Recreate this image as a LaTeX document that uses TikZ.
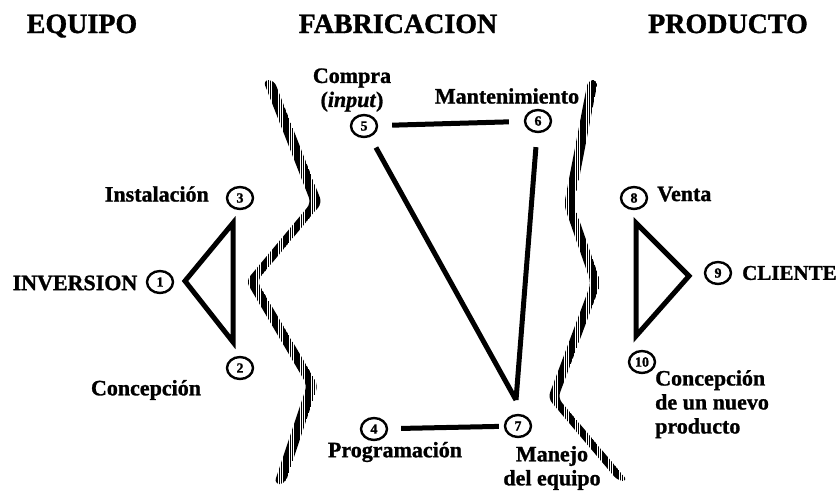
\documentclass[tikz,border=0pt]{standalone}
\usepackage{fontspec}
\setmainfont{Liberation Serif}[BoldFeatures={FakeBold=1.2}, BoldItalicFeatures={FakeBold=1.2}]
\usetikzlibrary{%
	calc,%
	shapes.geometric,%
	patterns.meta
}

\tikzset{
	num/.style={ellipse, draw, line width=2.4pt, inner sep=0pt, minimum width=26pt, minimum height=22pt, font=\bfseries\fontsize{14}{14}\selectfont},
	lbl/.style={inner sep=0pt, font=\bfseries\fontsize{22}{24}\selectfont, align=center},
	head/.style={inner sep=0pt, anchor=base, font=\bfseries\fontsize{28}{30}\selectfont},
	link/.style={line width=5pt},
	band/.style={pattern={Lines[angle=90,distance=2.2pt,line width=1.5pt]}, rounded corners=6pt}
}

\begin{document}
\begin{tikzpicture}[>=latex, x=1pt, y=-1pt]
	% Frame
	\path[use as bounding box] (0,0) rectangle (838,491);
	
	% Headings
	\node[head] (equipo) at (82,33) {EQUIPO};
	\node[head] (fabricacion) at (398,33) {FABRICACION};
	\node[head] (producto) at (728,33) {PRODUCTO};
	
	% Hatched borders
	\path[band] (263,80) -- (311,203) -- (246,281) -- (307,385) -- (274,484) -- (285,484) -- (318,385) -- (257,281) -- (322,203) -- (274,80) -- cycle;
	\path[band] (588,80) -- (564,205) -- (591,283) -- (548,398) -- (618,481) -- (628,481) -- (558,398) -- (601,283) -- (574,205) -- (598,80) -- cycle;
	
	% Numbered circles
	\foreach \i/\x/\y in {1/160/282, 2/240/368, 3/240/198, 4/374/429, 5/364/126, 6/538/121, 7/518/426, 8/634/198, 9/718/273, 10/642/362}
	\node[num] (n\i) at (\x,\y) {\i};
	
	% Labels
	\node[lbl, anchor=east] (instalacion) at (209,194) {Instalación};
	\node[lbl] (inversion) at (75,283) {INVERSION};
	\node[lbl] (concepcion) at (146,390) {Concepción};
	\node[lbl] (compra) at (352,90) {Compra\\(\textit{input})};
	\node[lbl] (mantenimiento) at (507,96) {Mantenimiento};
	\node[lbl] (programacion) at (395,452) {Programación};
	\node[lbl] (manejo) at (552,468) {Manejo\\del equipo};
	\node[lbl, anchor=west] (venta) at (657,194) {Venta};
	\node[lbl, anchor=west, font=\bfseries\fontsize{21}{24}\selectfont] (cliente) at (742,273) {CLIENTE};
	\node[lbl, anchor=north west, align=left] (nuevo) at (655,370) {Concepción\\de un nuevo\\producto};
	
	% Triangle corners
	\coordinate (a1) at (185,281);
	\coordinate (a3) at (233,223);
	\coordinate (a2) at (233,342);
	\coordinate (b8) at (636,223);
	\coordinate (b9) at (689,276);
	\coordinate (b10) at (636,336);
	\coordinate (v7) at (516,400);
	
	% Edges
	\draw[link] (a1) -- (a3) -- (a2) -- cycle;
	\draw[link] (b8) -- (b9) -- (b10) -- cycle;
	\draw[link, shorten <=14pt, shorten >=15pt] (n5) -- (n6);
	\draw[link, shorten <=12pt] (n5) -- (v7);
	\draw[link, shorten <=14pt] (n6) -- (v7);
	\draw[link, shorten <=13pt, shorten >=5pt] (n4) -- (n7);
\end{tikzpicture}
\end{document}
